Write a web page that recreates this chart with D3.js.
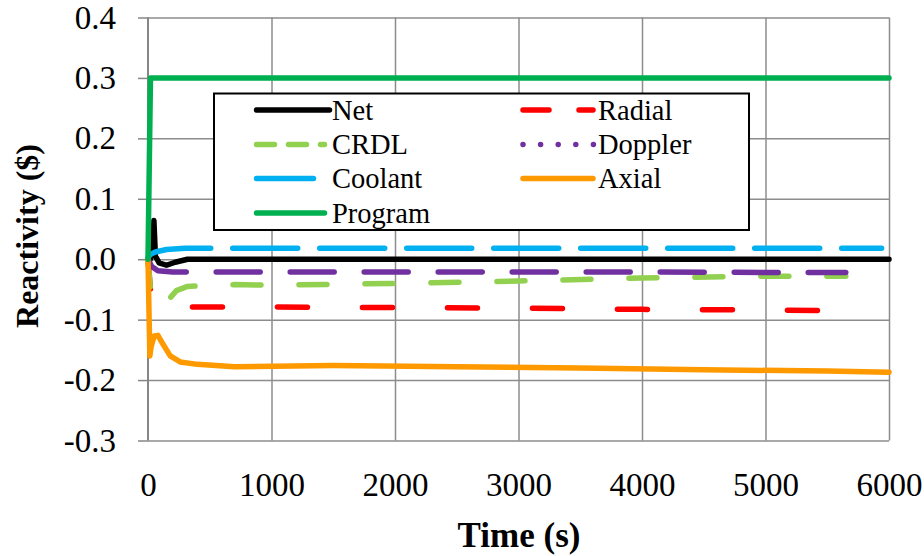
<!DOCTYPE html>
<html>
<head>
<meta charset="utf-8">
<script src="https://cdn.jsdelivr.net/npm/d3@7"></script>
<style>
  html, body { margin: 0; padding: 0; background: #fff; }
  svg, svg text { font-family: "Liberation Serif", "Times New Roman", "Noto Serif", "DejaVu Serif", "Liberation Sans", serif !important; }
</style>
</head>
<body>
<div id="chart"></div>
<script>
// Values (time in s, reactivity in $)
const netTime = [0, 20, 40, 48, 60, 90, 150, 220, 320, 1000, 6000];
const netVal = [0, 0.0, 0.03, 0.064, 0.005, -0.006, -0.01, -0.005, 0, 0, 0];

const radialTime = [0, 20, 50, 100, 1000, 2000, 3000, 4000, 5000, 5560];
const radialVal = [0, -0.05, -0.076, -0.079, -0.079, -0.08, -0.081, -0.083, -0.084, -0.085];

const crdlTime = [0, 20, 60, 120, 230, 320, 700, 1000, 2000, 3000, 4000, 5000, 5650];
const crdlVal = [0, -0.05, -0.075, -0.078, -0.052, -0.045, -0.042, -0.043, -0.04, -0.036, -0.031, -0.028, -0.028];

const dopplerTime = [0, 30, 80, 200, 1000, 2000, 3000, 4000, 5000, 5650];
const dopplerVal = [0, -0.012, -0.019, -0.021, -0.021, -0.021, -0.021, -0.021, -0.022, -0.022];

const coolantTime = [0, 20, 60, 150, 300, 1000, 3000, 5940];
const coolantVal = [0.003, 0.008, 0.012, 0.016, 0.018, 0.018, 0.018, 0.018];

const axialTime = [0, 15, 25, 50, 80, 120, 180, 260, 400, 700, 1500, 2500, 3500, 4500, 5500, 6000];
const axialVal = [0, -0.16, -0.145, -0.127, -0.126, -0.14, -0.16, -0.17, -0.174, -0.178, -0.176, -0.178, -0.18, -0.183, -0.185, -0.187];

const programTime = [0, 20, 6000];
const programVal = [0, 0.3, 0.3];

const xTicks = [0, 1000, 2000, 3000, 4000, 5000, 6000];
const yTicks = [-0.3, -0.2, -0.1, 0.0, 0.1, 0.2, 0.3, 0.4];

const seriesNames = ["Net", "Radial", "CRDL", "Doppler", "Coolant", "Axial", "Program"];

const series = [
  { name: "Net", t: netTime, v: netVal, color: "#000000", dash: null, legDash: null, legLen: 73 },
  { name: "Radial", t: radialTime, v: radialVal, color: "#FF0000", dash: "30,55", legDash: "26,30", legLen: 70 },
  { name: "CRDL", t: crdlTime, v: crdlVal, color: "#92D050", dash: "28,38", legDash: "18,14", legLen: 68 },
  { name: "Doppler", t: dopplerTime, v: dopplerVal, color: "#7030A0", dash: "44,30", legDash: "0,17.6", legLen: 71 },
  { name: "Coolant", t: coolantTime, v: coolantVal, color: "#00B0F0", dash: "65,22", legDash: null, legLen: 57 },
  { name: "Axial", t: axialTime, v: axialVal, color: "#FF9900", dash: null, legDash: null, legLen: 70 },
  { name: "Program", t: programTime, v: programVal, color: "#00B050", dash: null, legDash: null, legLen: 68 }
];

const width = 924, height = 556;
const margin = { left: 148, right: 35, top: 17.5, bottom: 115.5 };
const innerW = width - margin.left - margin.right;
const innerH = height - margin.top - margin.bottom;

const svg = d3.select("#chart").append("svg")
  .attr("width", width)
  .attr("height", height);

const g = svg.append("g").attr("transform", `translate(${margin.left},${margin.top})`);

const x = d3.scaleLinear().domain([0, 6000]).range([0, innerW]);
const y = d3.scaleLinear().domain([-0.3, 0.4]).range([innerH, 0]);

// Grid
g.append("g")
  .call(d3.axisLeft(y).tickValues(yTicks).tickSize(-innerW).tickFormat(""))
  .call(a => a.select(".domain").remove())
  .selectAll("line").attr("stroke", "#8c8c8c").attr("stroke-width", 1.5);

g.append("g")
  .attr("transform", `translate(0,${innerH})`)
  .call(d3.axisBottom(x).tickValues(xTicks.slice(1)).tickSize(-innerH).tickFormat(""))
  .call(a => a.select(".domain").remove())
  .selectAll("line").attr("stroke", "#8c8c8c").attr("stroke-width", 1.5);

// Y axis with outside ticks (plain hyphen for negatives, like the original)
const yAxis = g.append("g")
  .call(d3.axisLeft(y).tickValues(yTicks).tickSize(10).tickPadding(22)
    .tickFormat(d => d.toFixed(1)));
yAxis.attr("font-family", null);
yAxis.select(".domain").attr("stroke", "#868686").attr("stroke-width", 2).attr("d", `M0,0V${innerH}`);
yAxis.selectAll("line").attr("stroke", "#868686").attr("stroke-width", 1.5);
yAxis.selectAll("text")
  .attr("fill", "#000")
  .style("font-size", "33px");

// X axis labels
const xAxis = g.append("g")
  .attr("transform", `translate(0,${innerH})`)
  .call(d3.axisBottom(x).tickValues(xTicks).tickSize(0).tickPadding(32).tickFormat(d3.format("d")));
xAxis.attr("font-family", null);
xAxis.select(".domain").remove();
xAxis.selectAll("text")
  .attr("fill", "#000")
  .style("font-size", "33px");

// Axis titles
svg.append("text")
  .attr("x", 519).attr("y", 547)
  .attr("text-anchor", "middle")
  .style("font-size", "35px").style("font-weight", "bold")
  .text("Time (s)");

svg.append("text")
  .attr("transform", "translate(38,236) rotate(-90)")
  .attr("text-anchor", "middle")
  .style("font-size", "32px").style("font-weight", "bold")
  .text("Reactivity ($)");

// Lines
const line = d3.line().x(d => x(d[0])).y(d => y(d[1]));
svg.append("clipPath").attr("id", "plotclip")
  .append("rect").attr("x", -4).attr("y", -4).attr("width", innerW + 8).attr("height", innerH + 8);

const lines = g.append("g").attr("clip-path", "url(#plotclip)");
series.forEach(s => {
  const pts = s.t.map((t, i) => [t, s.v[i]]);
  lines.append("path")
    .datum(pts)
    .attr("d", line)
    .attr("fill", "none")
    .attr("stroke", s.color)
    .attr("stroke-width", 5.5)
    .attr("stroke-linecap", "round")
    .attr("stroke-linejoin", "round")
    .attr("stroke-dasharray", s.dash);
});

// Legend
const legend = svg.append("g");
legend.append("rect")
  .attr("x", 214).attr("y", 93.5).attr("width", 535).attr("height", 136.5)
  .attr("fill", "#fff").attr("stroke", "#000").attr("stroke-width", 2);

const legRowY = [110, 144.5, 178.5, 213];
const legColX = [256.5, 523];
const legTextX = [332, 598];

series.forEach((s, i) => {
  const col = i % 2, row = Math.floor(i / 2);
  const ly = legRowY[row];
  const lx = legColX[col];
  legend.append("line")
    .attr("x1", lx).attr("x2", lx + s.legLen)
    .attr("y1", ly).attr("y2", ly)
    .attr("stroke", s.color)
    .attr("stroke-width", 5.5)
    .attr("stroke-linecap", "round")
    .attr("stroke-dasharray", s.legDash);
  legend.append("text")
    .attr("x", legTextX[col]).attr("y", ly)
    .attr("dy", "0.35em")
    .style("font-size", "28.5px")
    .text(seriesNames[i]);
});
</script>
</body>
</html>
